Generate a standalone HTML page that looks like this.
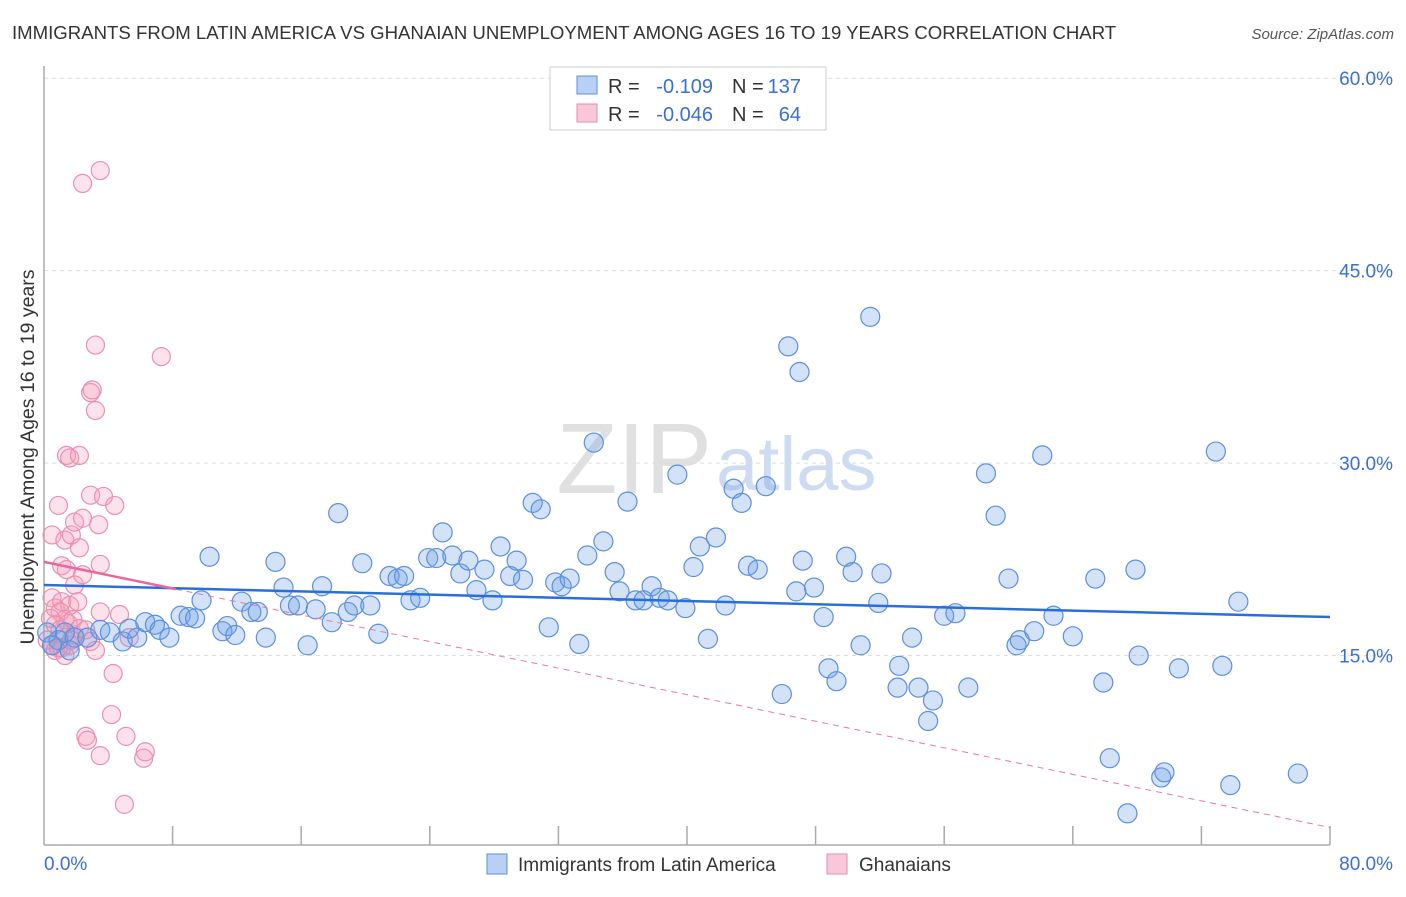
<!DOCTYPE html>
<html><head><meta charset="utf-8"><style>
body{margin:0;background:#fff;font-family:"Liberation Sans",sans-serif;}
svg text{font-family:"Liberation Sans",sans-serif;}
</style></head><body>
<svg width="1406" height="892" viewBox="0 0 1406 892" xmlns="http://www.w3.org/2000/svg">
<text x="12" y="39" font-size="18.6" fill="#333">IMMIGRANTS FROM LATIN AMERICA VS GHANAIAN UNEMPLOYMENT AMONG AGES 16 TO 19 YEARS CORRELATION CHART</text>
<text x="1394" y="39" font-size="15" fill="#555" text-anchor="end" font-style="italic">Source: ZipAtlas.com</text>
<text x="712" y="493" font-size="100" fill="#e0e0e0" text-anchor="end" font-family="Liberation Serif">ZIP</text>
<text x="716" y="490" font-size="76" fill="#cddcf2">atlas</text>
<g id="grid"></g>
<g id="axes"></g>
<g id="pts"></g>
<g id="trend"></g>
<text transform="translate(34,457) rotate(-90)" font-size="19.5" fill="#333" text-anchor="middle">Unemployment Among Ages 16 to 19 years</text>
<g>
<rect x="550" y="67" width="276" height="63" fill="#fff" stroke="#ccc"/>
<rect x="577" y="76" width="20" height="18" fill="#b8d0f4" stroke="#5b8fe0"/>
<rect x="577" y="104" width="20" height="18" fill="#f8c8d8" stroke="#e98aa8"/>
<text x="608" y="93" font-size="20" fill="#333">R =</text>
<text x="713" y="93" font-size="20" fill="#3a6fd8" text-anchor="end">-0.109</text>
<text x="732" y="93" font-size="20" fill="#333">N =</text>
<text x="801" y="93" font-size="20" fill="#3a6fd8" text-anchor="end">137</text>
<text x="608" y="121" font-size="20" fill="#333">R =</text>
<text x="713" y="121" font-size="20" fill="#3a6fd8" text-anchor="end">-0.046</text>
<text x="732" y="121" font-size="20" fill="#333">N =</text>
<text x="801" y="121" font-size="20" fill="#3a6fd8" text-anchor="end">64</text>
</g>
<g>
<rect x="487" y="854" width="20" height="20" fill="#b8d0f4" stroke="#5b8fe0"/>
<text x="518" y="871" font-size="19" fill="#333">Immigrants from Latin America</text>
<rect x="827" y="854" width="20" height="20" fill="#f8c8d8" stroke="#e98aa8"/>
<text x="859" y="871" font-size="19" fill="#333">Ghanaians</text>
</g>
</svg>
<script>
const blueX=[0.9,1.3,1.9,2.7,3.5,4.1,4.9,5.3,5.8,6.3,6.9,7.2,7.8,8.5,9.0,9.4,9.8,10.3,11.1,11.4,11.9,12.3,12.9,13.3,13.8,14.4,14.9,15.3,15.8,16.4,16.9,17.3,17.9,18.3,18.9,19.3,19.8,20.3,20.8,21.5,22.0,22.4,22.8,23.4,23.9,24.4,24.8,25.4,25.9,26.4,26.9,27.4,27.9,28.4,29.0,29.4,29.8,30.4,30.9,31.4,31.8,32.2,32.7,33.3,33.8,34.2,34.8,35.5,35.8,36.3,36.8,37.3,37.8,38.3,38.8,39.4,39.9,40.4,40.8,41.3,41.8,42.4,42.9,43.4,43.8,44.4,44.9,45.9,46.3,47.0,46.8,47.2,47.9,48.5,48.8,49.3,49.9,50.3,50.8,51.4,51.9,52.1,53.1,53.2,54.0,54.4,55.0,55.3,56.0,56.7,57.5,58.6,59.2,60.0,60.5,60.7,61.6,62.1,62.8,64.0,65.4,65.9,66.3,67.4,67.9,68.1,69.5,69.7,70.6,72.9,73.3,73.8,74.3,78.0,0.2,0.5,1.6];
const blueY=[16.2,16.8,16.4,16.4,17.0,16.8,16.1,17.1,16.4,17.6,17.4,17.0,16.4,18.1,18.0,17.9,19.3,22.7,16.9,17.3,16.6,19.2,18.4,18.4,16.4,22.3,20.3,18.9,18.9,15.8,18.6,20.4,17.6,26.1,18.4,18.9,22.2,18.9,16.7,21.2,21.0,21.2,19.3,19.5,22.6,22.6,24.6,22.8,21.4,22.4,20.1,21.7,19.3,23.5,21.2,22.4,20.9,26.9,26.4,17.2,20.7,20.4,21.0,15.9,22.8,31.6,23.9,21.5,20.0,27.0,19.3,19.3,20.4,19.5,19.3,29.1,18.7,21.9,23.5,16.3,24.2,18.9,28.0,26.9,22.0,21.7,28.2,12.0,39.1,37.1,20.0,22.4,20.3,18.0,14.0,13.0,22.7,21.5,15.8,41.4,19.1,21.4,12.5,14.2,16.4,12.5,9.9,11.5,18.1,18.3,12.5,29.2,25.9,21.0,15.8,16.2,16.9,30.6,18.1,16.5,21.0,12.9,7.0,2.7,21.7,15.0,5.5,5.9,14.0,30.9,14.2,4.9,19.2,5.8,16.8,15.8,15.4];
const pinkX=[2.4,3.5,3.2,7.3,2.9,3.0,3.2,1.4,1.6,2.2,0.5,0.9,1.3,1.7,1.9,2.2,2.4,2.9,3.4,3.7,4.4,3.5,1.1,1.4,1.9,2.4,0.5,0.7,1.1,1.6,2.1,1.0,1.3,1.5,1.8,0.4,0.7,1.0,0.2,0.5,0.7,1.1,1.6,1.9,2.2,3.5,4.7,5.3,4.3,4.2,2.6,2.7,5.1,3.5,6.3,6.2,5.0,0.9,1.3,1.7,2.6,2.9,3.2];
const pinkY=[51.8,52.8,39.2,38.3,35.5,35.7,34.1,30.6,30.4,30.6,24.4,26.7,24.0,24.4,25.4,23.4,25.7,27.5,25.2,27.4,26.7,22.1,22.0,21.7,20.5,21.3,19.5,18.7,19.2,18.9,19.2,18.4,17.8,17.5,17.8,17.9,17.4,17.0,16.2,15.8,15.4,15.6,15.8,16.6,17.1,18.4,18.2,16.4,13.6,10.4,8.7,8.4,8.7,7.2,7.5,7.0,3.4,15.6,15.0,16.2,17.0,16.1,15.4];
const blueTrend=[20.5,18.0];
const pinkTrend=[22.3,1.6];
const pinkSolidEnd=8.2;
const xTicks=[0,8,16,24,32,40,48,56,64,72,80];
const yTicks=[15,30,45,60];
const yTickLabels=["15.0%","30.0%","45.0%","60.0%"];
const xEndLabels=["0.0%","80.0%"];

const NS="http://www.w3.org/2000/svg";
const X=v=>44+v/80*1286;
const Y=v=>848-v*12.83;
function mk(tag,attrs,parent){const e=document.createElementNS(NS,tag);for(const k in attrs)e.setAttribute(k,attrs[k]);parent.appendChild(e);return e;}
const grid=document.getElementById('grid'),axes=document.getElementById('axes'),pts=document.getElementById('pts'),trend=document.getElementById('trend');
yTicks.forEach((t,i)=>{
  const l=mk('line',{x1:44,x2:1394,y1:Y(t),y2:Y(t),stroke:'#ddd','stroke-dasharray':'4,4'},grid);
  
  
  const tx=mk('text',{x:1393,y:Y(t)+7,'font-size':19,fill:'#3a6fd8','text-anchor':'end'},grid);
  tx.textContent=yTickLabels[i];
  
  
});
const ya=mk('line',{x1:44,x2:44,y1:66,y2:845,stroke:'#aaa','stroke-width':1.5},axes);


const xa=mk('line',{x1:44,x2:1330,y1:845,y2:845,stroke:'#aaa','stroke-width':1.5},axes);


xTicks.forEach(t=>{
  if(t===0)return;
  const l=mk('line',{x1:X(t),x2:X(t),y1:826,y2:845,stroke:'#aaa','stroke-width':1.5},axes);
  
  
});
const xl0=mk('text',{x:44,y:870,'font-size':19,fill:'#3a6fd8'},axes);xl0.textContent=xEndLabels[0];


const xl1=mk('text',{x:1393,y:870,'font-size':19,fill:'#3a6fd8','text-anchor':'end'},axes);xl1.textContent=xEndLabels[1];


pinkX.forEach((v,i)=>{
  const c=mk('circle',{cx:X(v),cy:Y(pinkY[i]),r:9,fill:'rgba(244,160,190,0.3)',stroke:'#eb8fae','stroke-width':1.2},pts);
  
  
});
blueX.forEach((v,i)=>{
  const c=mk('circle',{cx:X(v),cy:Y(blueY[i]),r:9.5,fill:'rgba(110,160,230,0.3)',stroke:'#5b8fe0','stroke-width':1.2},pts);
  
  
});
const pv=x=>pinkTrend[0]+(pinkTrend[1]-pinkTrend[0])*x/80;
const pd=mk('line',{x1:X(pinkSolidEnd),y1:Y(pv(pinkSolidEnd)),x2:X(80),y2:Y(pinkTrend[1]),stroke:'#e9799d','stroke-width':1,'stroke-dasharray':'6,5'},trend);


const bt=mk('line',{x1:X(0),y1:Y(blueTrend[0]),x2:X(80),y2:Y(blueTrend[1]),stroke:'#2a6fd8','stroke-width':2.5},trend);


const ps=mk('line',{x1:X(0),y1:Y(pinkTrend[0]),x2:X(pinkSolidEnd),y2:Y(pv(pinkSolidEnd)),stroke:'#e9679a','stroke-width':2.5},trend);


</script>
</body></html>
